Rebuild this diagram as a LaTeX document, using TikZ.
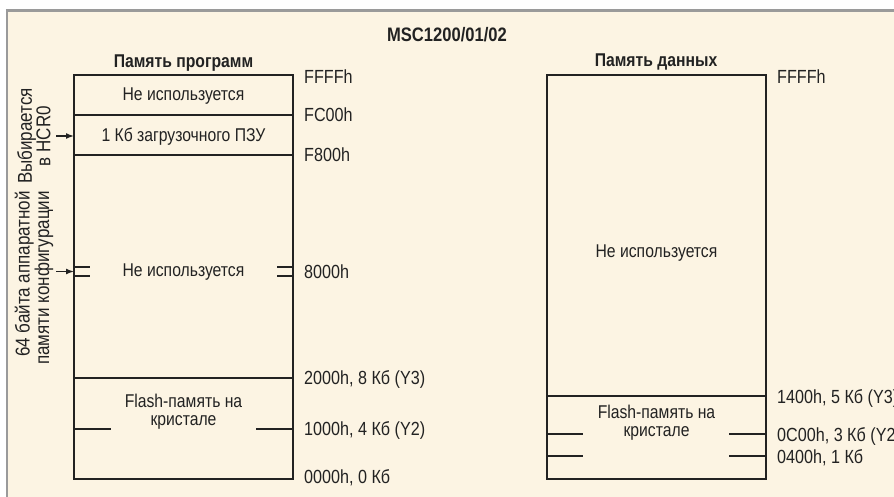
\documentclass[tikz,border=0pt]{standalone}
\usepackage{fontspec}
\setmainfont{Liberation Sans}[FakeStretch=0.85]
\usetikzlibrary{arrows.meta}
\definecolor{cream}{HTML}{FCF4E3}
\definecolor{ink}{HTML}{222222}
\definecolor{framegray}{HTML}{9A9A9A}
\begin{document}
\begin{tikzpicture}[x=1pt,y=-1pt,
  txt/.style={font=\fontsize{18.5}{18}\selectfont, text=ink, inner sep=0pt},
  ttl/.style={font=\bfseries\fontsize{18.5}{18}\selectfont, text=ink, inner sep=0pt, anchor=base},
  lbl/.style={txt, font=\fontsize{19}{18}\selectfont, anchor=base west},
  mid/.style={txt, anchor=base, align=center},
  side/.style={txt, font=\fontsize{20}{18.5}\selectfont, rotate=90},
  membox/.style={draw=ink, line width=1.9pt},
  sepline/.style={draw=ink, line width=1.9pt},
  tickline/.style={draw=ink, line width=1.5pt},
  arr/.style={draw=ink, line width=1.5pt, -{Latex[length=8pt,width=6pt]}}
]
\useasboundingbox (0,0) rectangle (894,497);
\fill[white] (0,0) rectangle (894,497);
\fill[cream] (7,10) rectangle (894,497);
\draw[framegray, line width=2.5pt] (5.9,10.5) -- (894,10.5);
\draw[framegray, line width=2.4pt] (7.2,9.3) -- (7.2,497);

% titles
\node[ttl, font=\bfseries\fontsize{19.5}{18}\selectfont] (title) at (447,42) {MSC1200/01/02};
\node[ttl] (ptitle) at (183.5,68) {Память программ};
\node[ttl] (dtitle) at (656,66.5) {Память данных};

% program memory box
\draw[membox] (74,75) rectangle (293,479);
\draw[sepline] (74,115) -- (293,115);
\draw[sepline] (74,155) -- (293,155);
\draw[sepline] (74,378) -- (293,378);
\draw[tickline] (74,429) -- (111,429);
\draw[tickline] (256,429) -- (293,429);
\draw[tickline] (74,267) -- (90,267);
\draw[tickline] (74,276) -- (90,276);
\draw[tickline] (277,267) -- (293,267);
\draw[tickline] (277,276) -- (293,276);

\node[mid] (p1) at (183.5,100.7) {Не используется};
\node[mid] (p2) at (183.5,141.5) {1 Кб загрузочного ПЗУ};
\node[mid] (p3) at (183.5,276.5) {Не используется};
\node[mid] (p4) at (183.5,425) {Flash-память на\\кристале};

\node[lbl] (a1) at (304,84) {FFFFh};
\node[lbl] (a2) at (304,122) {FC00h};
\node[lbl] (a3) at (304,162) {F800h};
\node[lbl] (a4) at (304,278) {8000h};
\node[lbl] (a5) at (304,384) {2000h, 8 Кб (Y3)};
\node[lbl] (a6) at (304,435) {1000h, 4 Кб (Y2)};
\node[lbl] (a7) at (304,483) {0000h, 0 Кб};

% side notes and arrows
\node[side, align=center, anchor=center] (s1) at (34,136) {Выбирается\\в HCR0};
\node[side, align=right, anchor=east] (s2) at (34,191) {64 байта аппаратной\\памяти конфигурации};
\coordinate (r1s) at (56,136);
\coordinate (r1e) at (74,136);
\coordinate (r2s) at (56,271.5);
\coordinate (r2e) at (74,271.5);
\draw[arr] (r1s) -- (r1e);
\draw[arr] (r2s) -- (r2e);

% data memory box
\draw[membox] (547,75) rectangle (766,479);
\draw[sepline] (547,396) -- (766,396);
\draw[tickline] (547,434) -- (583,434);
\draw[tickline] (729,434) -- (766,434);
\draw[tickline] (547,456) -- (583,456);
\draw[tickline] (729,456) -- (766,456);

\node[mid] (d1) at (656.5,258) {Не используется};
\node[mid] (d2) at (656.5,436.5) {Flash-память на\\кристале};

\node[lbl] (b1) at (777,84) {FFFFh};
\node[lbl] (b2) at (777,403) {1400h, 5 Кб (Y3)};
\node[lbl] (b3) at (777,441) {0C00h, 3 Кб (Y2)};
\node[lbl] (b4) at (777,463) {0400h, 1 Кб};
\end{tikzpicture}
\end{document}
